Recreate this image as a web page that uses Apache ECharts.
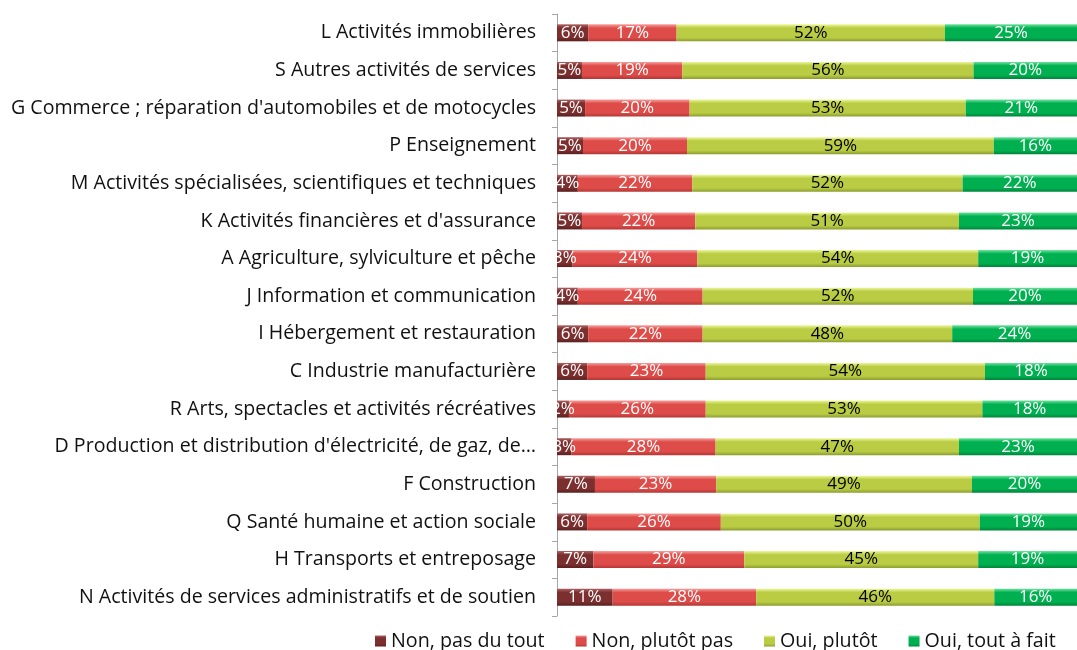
<!DOCTYPE html>
<html>
<head>
<meta charset="utf-8">
<script src="https://cdn.jsdelivr.net/npm/echarts@6/dist/echarts.min.js"></script>
<style>
  html, body { margin: 0; padding: 0; background: #fff; }
  #app { width: 1077px; height: 650px; }
</style>
</head>
<body>
<div id="app"></div>
<script>
// secteurs, du haut vers le bas
const categories = [
  'L Activités immobilières',
  'S Autres activités de services',
  "G Commerce ; réparation d'automobiles et de motocycles",
  'P Enseignement',
  'M Activités spécialisées, scientifiques et techniques',
  "K Activités financières et d'assurance",
  'A Agriculture, sylviculture et pêche',
  'J Information et communication',
  'I Hébergement et restauration',
  'C Industrie manufacturière',
  'R Arts, spectacles et activités récréatives',
  "D Production et distribution d'électricité, de gaz, de…",
  'F Construction',
  'Q Santé humaine et action sociale',
  'H Transports et entreposage',
  'N Activités de services administratifs et de soutien'
];

const seriesNames = ['Non, pas du tout', 'Non, plutôt pas', 'Oui, plutôt', 'Oui, tout à fait'];

// parts en %, estimées (les étiquettes sont arrondies)
const pasDuTout   = [6.0, 4.8, 5.4, 5.0, 4.0, 4.8, 3.0, 4.0, 6.0, 5.8, 2.3, 2.8, 7.3, 5.8, 7.0, 10.7];
const plutotPas   = [17.0, 19.3, 20.1, 20.0, 22.0, 21.8, 24.0, 24.0, 22.0, 22.8, 26.3, 27.7, 23.3, 25.7, 29.0, 27.6];
const ouiPlutot   = [51.6, 56.0, 53.1, 59.0, 52.0, 50.7, 54.0, 52.0, 48.0, 53.7, 53.2, 46.8, 49.2, 49.8, 45.0, 45.8];
const toutAFait   = [25.4, 19.9, 21.4, 16.0, 22.0, 22.7, 19.0, 20.0, 24.0, 17.7, 18.2, 22.7, 20.2, 18.7, 19.0, 15.9];

const colors = [
  ['#b06262', '#7b2f2f', '#5a1f1f'],
  ['#f7a09d', '#de4c49', '#b33735'],
  ['#ecf79a', '#b9cc44', '#8c9d2e'],
  ['#6fe39f', '#00b050', '#00843a']
];

function grad(c) {
  return new echarts.graphic.LinearGradient(0, 0, 0, 1, [
    { offset: 0, color: c[0] },
    { offset: 0.22, color: c[1] },
    { offset: 0.78, color: c[1] },
    { offset: 1, color: c[2] }
  ]);
}

const values = [pasDuTout, plutotPas, ouiPlutot, toutAFait];
const labelColors = ['#fff', '#fff', '#000', '#fff'];

var myChart = echarts.init(document.getElementById('app'));

let option = {
  animation: false,
  color: colors.map(c => c[1]),
  grid: {
    left: 557,
    right: 0,
    top: 14,
    bottom: 34
  },
  legend: {
    left: 370,
    top: 626,
    itemWidth: 11,
    itemHeight: 11,
    itemGap: 31,
    icon: 'rect',
    textStyle: { fontFamily: 'Open Sans', fontSize: 19.7, color: '#111' },
    data: seriesNames
  },
  xAxis: {
    type: 'value',
    min: 0,
    max: 100,
    show: false
  },
  yAxis: {
    type: 'category',
    inverse: true,
    data: categories,
    axisLine: { lineStyle: { color: '#a6a6a6' } },
    axisTick: { show: true, length: 5, lineStyle: { color: '#a6a6a6' } },
    axisLabel: {
      margin: 21,
      fontFamily: 'Open Sans',
      fontSize: 19.6,
      color: '#111'
    }
  },
  series: seriesNames.map((name, i) => ({
    name: name,
    type: 'bar',
    stack: 'total',
    barWidth: 17,
    data: values[i],
    itemStyle: { color: grad(colors[i]) },
    label: {
      show: true,
      position: 'inside',
      fontFamily: 'Open Sans',
      fontSize: 17,
      color: labelColors[i],
      formatter: p => Math.round(p.value) + '%'
    }
  }))
};

myChart.setOption(option);
</script>
</body>
</html>
